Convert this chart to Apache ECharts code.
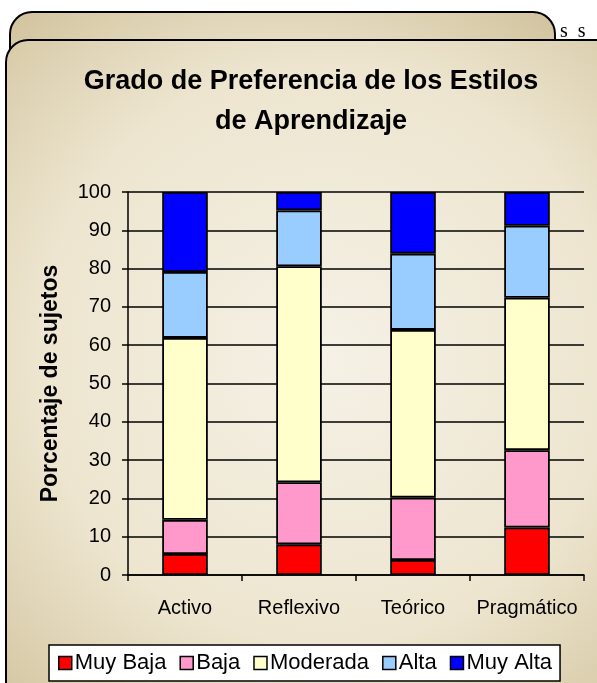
<!DOCTYPE html>
<html>
<head>
<meta charset="utf-8">
<script src="https://cdn.jsdelivr.net/npm/echarts@6/dist/echarts.min.js"></script>
<style>
html,body{margin:0;padding:0;background:#fff;}
#chart{width:597px;height:683px;}
</style>
</head>
<body>
<div id="chart"></div>
<script>
var categories = ['Activo', 'Reflexivo', 'Teórico', 'Pragmático'];
var seriesNames = ['Muy Baja', 'Baja', 'Moderada', 'Alta', 'Muy Alta'];
var muyBaja = [5.5, 8.0, 3.9, 12.4];
var baja = [8.9, 16.2, 16.3, 20.2];
var moderada = [47.5, 56.4, 43.8, 39.8];
var alta = [17.2, 14.6, 19.9, 18.8];
var muyAlta = [20.9, 4.8, 16.1, 8.8];
var colors = ['#ff0000', '#ff99cc', '#ffffcc', '#99ccff', '#0000ff'];

var font = '"Liberation Sans", Arial, sans-serif';
var chart = echarts.init(document.getElementById('chart'));

// fondo tipo panel
var panelFill = {
    type: 'radial', x: 0.5, y: 0.45, r: 0.75,
    colorStops: [
        {offset: 0, color: '#f5f1e6'},
        {offset: 0.6, color: '#ede5cf'},
        {offset: 1, color: '#d3c5a0'}
    ]
};

var data = [muyBaja, baja, moderada, alta, muyAlta];
var series = [];
for (var i = 0; i < seriesNames.length; i++) {
    series.push({
        name: seriesNames[i],
        type: 'bar',
        stack: 'total',
        barWidth: '40%',
        data: data[i],
        itemStyle: {color: colors[i], borderColor: '#000', borderWidth: 1.8},
        emphasis: {disabled: true}
    });
}

var option = {
    animation: false,
    textStyle: {fontFamily: font},
    graphic: [
        {type: 'text', left: 560, top: 22, z: 0,
            style: {text: 's  s', font: '20px "Liberation Serif", serif', fill: '#000'}},
        {type: 'rect', z: 0, shape: {x: 10, y: 12, width: 545, height: 720, r: 22},
            style: {fill: panelFill, stroke: '#000', lineWidth: 2}},
        {type: 'rect', z: 0, shape: {x: 6, y: 40, width: 640, height: 700, r: 22},
            style: {fill: panelFill, stroke: '#000', lineWidth: 2}}
    ],
    title: {
        text: 'Grado de Preferencia de los Estilos\nde Aprendizaje',
        left: 306,
        top: 57,
        textAlign: 'center',
        textStyle: {fontFamily: font, fontSize: 27, fontWeight: 'bold', color: '#000', lineHeight: 40}
    },
    legend: {
        data: seriesNames,
        left: 49,
        top: 645,
        itemWidth: 13,
        itemHeight: 13,
        itemGap: 13,
        icon: 'rect',
        backgroundColor: '#fff',
        borderColor: '#000',
        borderWidth: 1.5,
        padding: [7, 8, 7, 9],
        selectedMode: false,
        itemStyle: {borderColor: '#000', borderWidth: 1.5},
        textStyle: {fontFamily: font, fontSize: 22, color: '#000', padding: [0, 0, 0, -2]}
    },
    grid: {
        left: 128, right: 13, top: 192, bottom: 108,
        show: true, backgroundColor: '#fff', borderColor: '#888', borderWidth: 1.5
    },
    xAxis: {
        type: 'category',
        data: categories,
        axisLine: {lineStyle: {color: '#000', width: 1.5}},
        axisTick: {show: true, length: 6, lineStyle: {color: '#000', width: 1.5}},
        axisLabel: {fontFamily: font, fontSize: 20, color: '#000', margin: 23, interval: 0}
    },
    yAxis: {
        type: 'value',
        min: 0, max: 100, interval: 10,
        name: 'Porcentaje de sujetos',
        nameLocation: 'middle',
        nameRotate: 90,
        nameGap: 66,
        nameTextStyle: {fontFamily: font, fontSize: 23, fontWeight: 'bold', color: '#000'},
        axisLine: {show: true, lineStyle: {color: '#000', width: 1.5}},
        axisTick: {show: true, length: 6, lineStyle: {color: '#000', width: 1.5}},
        axisLabel: {fontFamily: font, fontSize: 20, color: '#000', margin: 17},
        splitLine: {lineStyle: {color: '#000', width: 1.5}}
    },
    series: series
};
chart.setOption(option);
</script>
</body>
</html>
